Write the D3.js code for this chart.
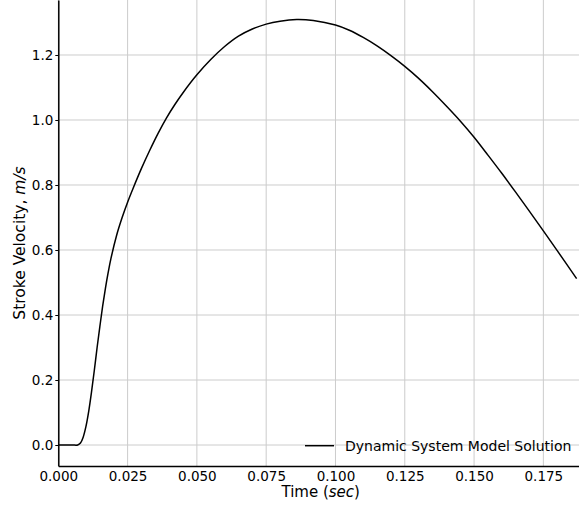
<!DOCTYPE html>
<html>
<head>
<meta charset="utf-8">
<script src="https://cdn.jsdelivr.net/npm/d3@7"></script>
<style>
  body { margin: 0; background: #fff; }
  svg { display: block; font-family: "DejaVu Sans", sans-serif; }
</style>
</head>
<body>
<div class="chart"></div>
<script>
var timeSec = [0, 0.005, 0.007, 0.008, 0.009, 0.010, 0.011, 0.012, 0.013, 0.014,
  0.015, 0.016, 0.017, 0.018, 0.019, 0.021, 0.023, 0.025, 0.027, 0.030,
  0.033, 0.036, 0.039, 0.042, 0.045, 0.050, 0.055, 0.060, 0.065, 0.070,
  0.075, 0.080, 0.086, 0.092, 0.100, 0.105, 0.110, 0.115, 0.120, 0.125,
  0.130, 0.135, 0.140, 0.145, 0.150, 0.155, 0.160, 0.165, 0.170, 0.175,
  0.180, 0.187];
var velocity = [0, 0, 0, 0.006, 0.025, 0.058, 0.105, 0.164, 0.230, 0.300,
  0.365, 0.427, 0.482, 0.531, 0.574, 0.644, 0.699, 0.747, 0.790, 0.851,
  0.907, 0.959, 1.006, 1.047, 1.084, 1.139, 1.186, 1.226, 1.258, 1.280,
  1.295, 1.304, 1.309, 1.306, 1.292, 1.276, 1.254, 1.228, 1.198, 1.165,
  1.128, 1.087, 1.043, 0.997, 0.947, 0.892, 0.836, 0.778, 0.719, 0.659,
  0.598, 0.512];
var xTicks = [0, 0.025, 0.05, 0.075, 0.1, 0.125, 0.15, 0.175];
var yTicks = [0, 0.2, 0.4, 0.6, 0.8, 1.0, 1.2];
var seriesName = "Dynamic System Model Solution";

const W = 579, H = 506;
const plotLeft = 58.3, plotBottom = 466, plotRight = 583, plotTop = 0;

var svg = d3.select(".chart").append("svg")
    .attr("width", W)
    .attr("height", H);

var x = d3.scaleLinear().domain([0, 0.1893]).range([plotLeft, plotRight]);
var y = d3.scaleLinear().domain([-0.0646, 1.3692]).range([plotBottom, plotTop]);

// grid
var grid = svg.append("g");
grid.selectAll(".gx").data(xTicks).join("line")
    .attr("x1", d => x(d)).attr("x2", d => x(d))
    .attr("y1", plotTop).attr("y2", plotBottom)
    .attr("stroke", "#cccccc").attr("stroke-width", 1);
grid.selectAll(".gy").data(yTicks).join("line")
    .attr("y1", d => y(d)).attr("y2", d => y(d))
    .attr("x1", plotLeft).attr("x2", plotRight)
    .attr("stroke", "#cccccc").attr("stroke-width", 1);

// curve
var pts = timeSec.map((t, i) => [t, velocity[i]]);
var line = d3.line().x(d => x(d[0])).y(d => y(d[1])).curve(d3.curveCatmullRom.alpha(0.5));
svg.append("path")
    .datum(pts)
    .attr("d", line)
    .attr("fill", "none")
    .attr("stroke", "#000")
    .attr("stroke-width", 1.5);

// axes
var gx = svg.append("g")
    .attr("transform", `translate(0, ${plotBottom})`)
    .call(d3.axisBottom(x).tickValues(xTicks).tickFormat(d3.format(".3f")).tickSize(0).tickPadding(5));
var gy = svg.append("g")
    .attr("transform", `translate(${plotLeft}, 0)`)
    .call(d3.axisLeft(y).tickValues(yTicks).tickFormat(d3.format(".1f")).tickSize(3).tickSizeOuter(0).tickPadding(2));

[gx, gy].forEach(g => {
    g.select(".domain").attr("stroke", "#000").attr("stroke-width", 1.5);
    g.selectAll("text").attr("font-size", 13.5).attr("fill", "#000")
        .attr("font-family", "DejaVu Sans, sans-serif");
    g.selectAll(".tick line").attr("stroke", "#000");
});

// axis labels
var xl = svg.append("text")
    .attr("x", 320.7).attr("y", 497)
    .attr("text-anchor", "middle")
    .attr("font-size", 15);
xl.append("tspan").text("Time (");
xl.append("tspan").attr("font-style", "italic").text("sec");
xl.append("tspan").text(")");

var yl = svg.append("text")
    .attr("transform", "translate(25, 243) rotate(-90)")
    .attr("text-anchor", "middle")
    .attr("font-size", 15.5);
yl.append("tspan").text("Stroke Velocity, ");
yl.append("tspan").attr("font-style", "italic").text("m/s");

// legend
var lg = svg.append("g");
lg.append("line")
    .attr("x1", 305).attr("x2", 334)
    .attr("y1", 445.7).attr("y2", 445.7)
    .attr("stroke", "#000").attr("stroke-width", 1.5);
lg.append("text")
    .attr("x", 345).attr("y", 451)
    .attr("font-size", 14)
    .text(seriesName);
</script>
</body>
</html>
